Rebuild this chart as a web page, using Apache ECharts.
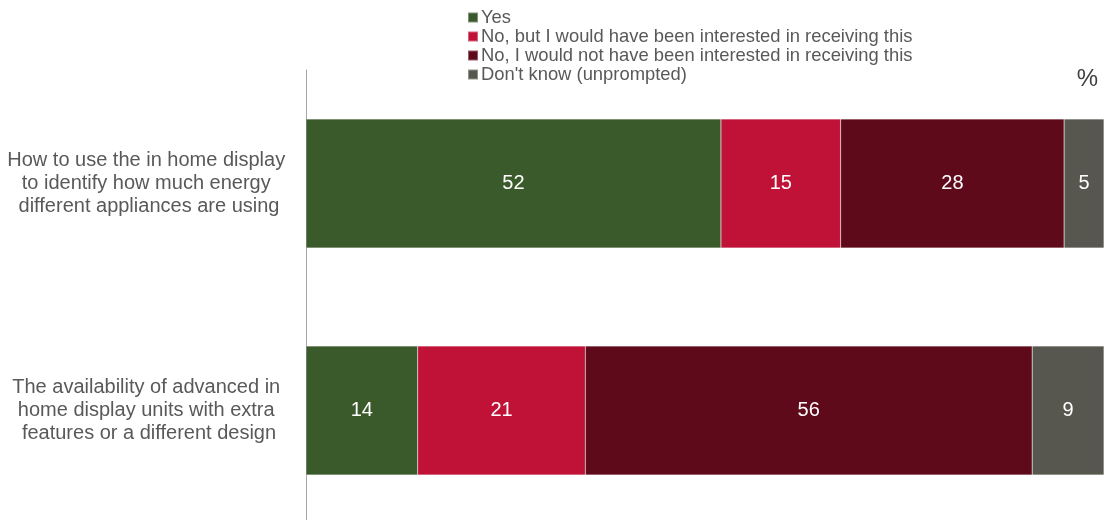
<!DOCTYPE html>
<html>
<head>
<meta charset="utf-8">
<script src="https://cdn.jsdelivr.net/npm/echarts@6/dist/echarts.min.js"></script>
<style>
  html, body { margin: 0; padding: 0; background: #ffffff; overflow: hidden; }
  #chart { width: 1104px; height: 524px; }
</style>
</head>
<body>
<div id="chart"></div>
<script>
// Survey questions (one bar each)
const categories = [
  'How to use the in home display to identify how much energy different appliances are using',
  'The availability of advanced in home display units with extra features or a different design'
];

// Answer shares, %
const seriesNames = [
  'Yes',
  'No, but I would have been interested in receiving this',
  'No, I would not have been interested in receiving this',
  "Don't know (unprompted)"
];
const yesValues = [52, 14];
const noInterestedValues = [15, 21];
const noNotInterestedValues = [28, 56];
const dontKnowValues = [5, 9];

const seriesValues = [yesValues, noInterestedValues, noNotInterestedValues, dontKnowValues];
const colors = ['#3b5a2b', '#c01237', '#5f0a1b', '#57574f'];

const chart = echarts.init(document.getElementById('chart'));

chart.setOption({
  animation: false,
  textStyle: { fontFamily: 'Liberation Sans, Arial, sans-serif' },
  legend: {
    orient: 'vertical',
    left: 462,
    top: 8,
    padding: [0, 5],
    itemWidth: 10,
    itemHeight: 10,
    itemGap: 0,
    icon: 'rect',
    textStyle: { fontSize: 18.4, lineHeight: 19, color: '#595959', padding: [0, 0, 0, -2] },
    data: seriesNames
  },
  graphic: [{
    type: 'text',
    right: 6,
    top: 67,
    style: { text: '%', fontSize: 24, fill: '#404040', fontFamily: 'Liberation Sans, Arial, sans-serif' }
  }],
  grid: { left: 305, right: 0, top: 70, bottom: 0, containLabel: false },
  xAxis: {
    type: 'value',
    min: 0,
    max: 100,
    show: false
  },
  yAxis: {
    type: 'category',
    inverse: true,
    data: categories,
    axisLine: { show: true, lineStyle: { color: '#a6a6a6', width: 1 } },
    axisTick: { show: false },
    axisLabel: {
      margin: 157,
      align: 'center',
      fontSize: 20,
      lineHeight: 23,
      color: '#595959',
      width: 292,
      overflow: 'break'
    }
  },
  series: seriesNames.map((name, i) => ({
    name: name,
    type: 'bar',
    stack: 'total',
    barWidth: 129,
    data: seriesValues[i],
    itemStyle: { color: colors[i], borderColor: 'rgba(255,255,255,0.35)', borderWidth: 0.5 },
    label: {
      show: true,
      position: 'inside',
      color: '#ffffff',
      fontSize: 20
    }
  }))
});
</script>
</body>
</html>
